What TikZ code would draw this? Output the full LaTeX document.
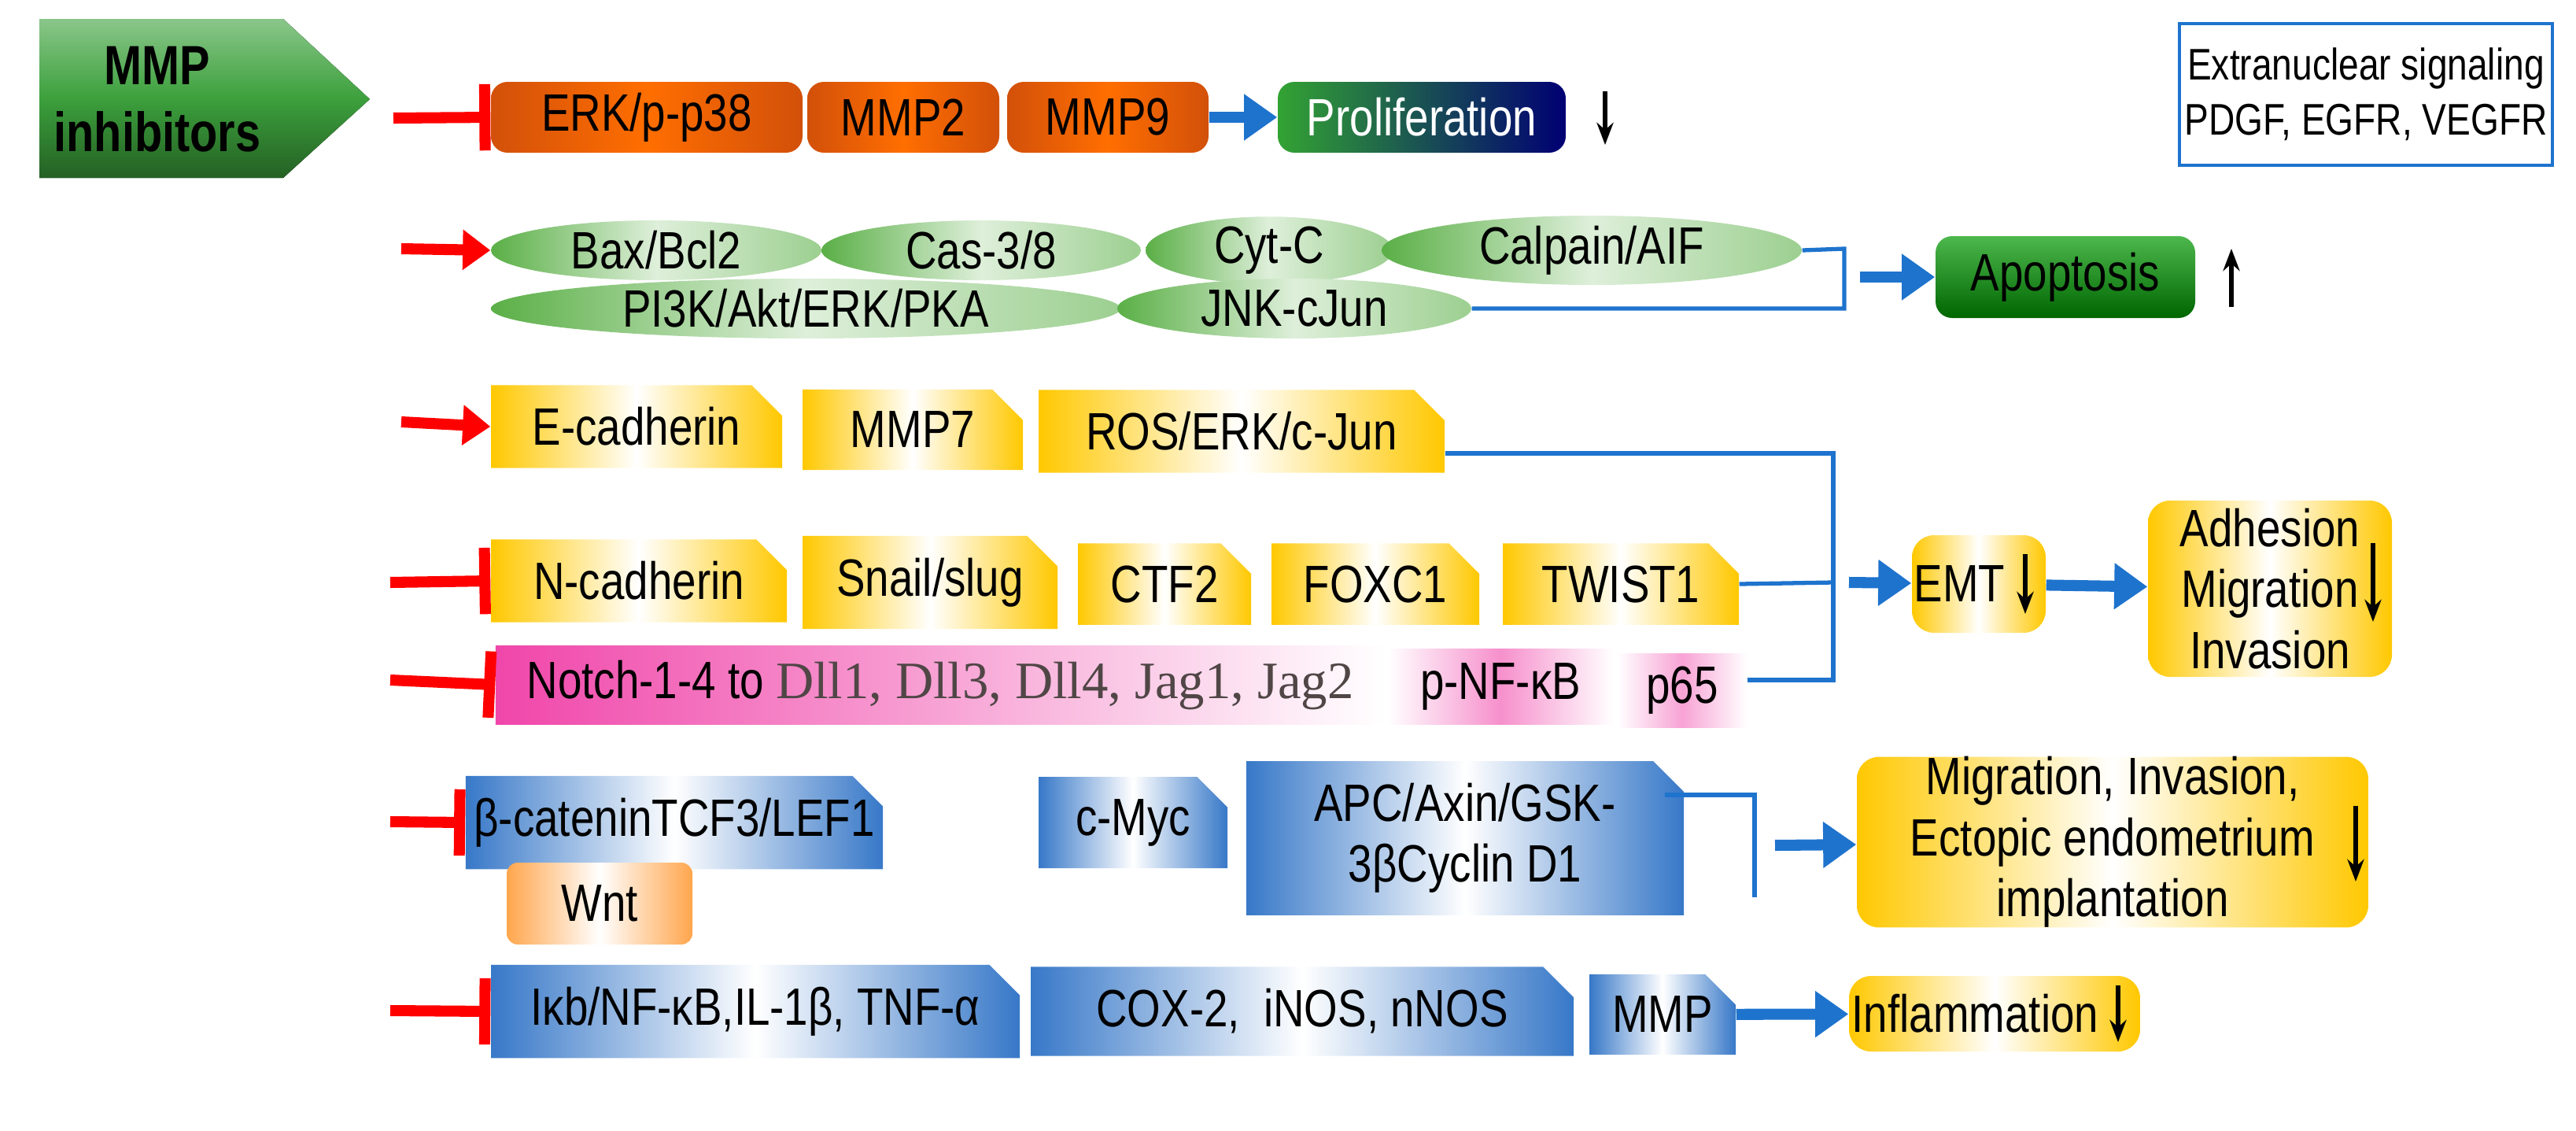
\documentclass[tikz,border=0pt]{standalone}
\usepackage{fontspec}
\setmainfont{Liberation Sans}[FakeStretch=0.82]
\newfontfamily\serifnum{Liberation Serif}
\usetikzlibrary{shapes.misc,shapes.geometric,arrows.meta,positioning}
\definecolor{mmpgreen}{RGB}{60,160,60}
\definecolor{dkorange}{RGB}{210,80,10}
\definecolor{ltorange}{RGB}{255,110,0}
\definecolor{ellgreen}{RGB}{90,175,70}
\definecolor{boxyellow}{RGB}{255,200,0}
\definecolor{boxpink}{RGB}{240,70,170}
\definecolor{boxblue}{RGB}{55,120,200}
\definecolor{arrblue}{RGB}{30,115,205}
\definecolor{serifgray}{RGB}{80,70,70}
% box from its corners (x1,y1) (x2,y2): style, name, corners, text
\newcommand\boxat[7]{%
  \pgfmathsetmacro\bw{(#5-#3)*0.02}\pgfmathsetmacro\bh{(#6-#4)*0.02}%
  \node[#1, minimum width=\bw cm, minimum height=\bh cm] (#2) at ({(#3+#5)/2},{(#4+#6)/2}) {#7};}
\tikzset{
  every node/.style={font=\fontsize{19}{22}\selectfont, inner sep=0pt},
  obox/.style={rounded corners=6pt, left color=dkorange, right color=dkorange, middle color=ltorange},
  ell/.style={ellipse, left color=ellgreen, right color=ellgreen!60, middle color=white!80!ellgreen},
  ybox/.style={chamfered rectangle, chamfered rectangle corners=north east, chamfered rectangle xsep=3pt,
    chamfered rectangle ysep=8pt, left color=boxyellow, right color=boxyellow, middle color=white},
  pbox/.style={left color=boxpink, right color=white, middle color=boxpink!50},
  bbox/.style={chamfered rectangle, chamfered rectangle corners=north east, chamfered rectangle xsep=3pt,
    chamfered rectangle ysep=8pt, left color=boxblue, right color=boxblue, middle color=white},
  res/.style={rounded corners=8pt, left color=boxyellow, right color=boxyellow, middle color=white, align=center},
  inhib/.style={red, line width=4pt, -{Bar[width=24pt, line width=4pt]}},
  act/.style={red, line width=4pt, -{Triangle[width=14pt, length=10pt]}},
  flow/.style={arrblue, line width=4pt, -{Triangle[width=16pt, length=12pt]}},
  link/.style={arrblue, line width=1.5pt},
  down/.style={black, line width=1.5pt, -{Stealth[length=8pt]}}
}
\begin{document}
\begin{tikzpicture}[x=0.02cm, y=-0.02cm]
  \useasboundingbox (0,0) rectangle (1637,718);
  % MMP inhibitors
  \fill[top color=mmpgreen!60, bottom color=mmpgreen!60!black, middle color=mmpgreen]
    (25,12) -- (180,12) -- (235,63) -- (180,113) -- (25,113) -- cycle;
  \node[font=\fontsize{20}{24}\selectfont\bfseries, align=center] (mmp) at (100,63) {MMP\\inhibitors};

  % Row 1: proliferation
  \coordinate (r1) at (250,75);
  \boxat{obox}{erk}{312}{52}{510}{97}{ERK/p-p38}
  \boxat{obox}{mmp2}{513}{52}{635}{97}{MMP2}
  \boxat{obox}{mmp9}{640}{52}{768}{97}{MMP9}
  \boxat{rounded corners=6pt, left color=green!55!black!80, right color=blue!45!black, text=white}{prol}{812}{52}{995}{97}{Proliferation}
  \draw[inhib] (r1) -- (erk.west);
  \draw[flow] (mmp9) -- (prol);
  \draw[down] (1020,58) -- (1020,92);
  \boxat{draw=arrblue, line width=1pt, align=center, font=\fontsize{16}{20}\selectfont}{extra}{1385}{15}{1622}{105}{Extranuclear signaling\\PDGF, EGFR, VEGFR}

  % Row 2: apoptosis
  \coordinate (r2) at (255,158);
  \boxat{ell}{bax}{312}{140}{522}{178}{Bax/Bcl2}
  \boxat{ell}{cas}{522}{140}{725}{178}{Cas-3/8}
  \boxat{ell}{cyt}{728}{140}{885}{178}{Cyt-C}
  \boxat{ell}{calp}{878}{140}{1145}{178}{Calpain/AIF}
  \boxat{ell}{pi3k}{312}{177}{712}{215}{PI3K/Akt/ERK/PKA}
  \boxat{ell}{jnk}{710}{177}{935}{215}{JNK-cJun}
  \draw[act] (r2) -- (bax.west);
  \draw[link] (calp.east) -- (1172,158) -- (1172,196) -- (jnk.east);
  \boxat{rounded corners=6pt, top color=green!60!black!70, bottom color=green!40!black}{apop}{1230}{150}{1395}{202}{Apoptosis}
  \draw[flow] (1182,176) -- (apop);
  \draw[down, {Stealth[length=8pt]}-] (1418,158) -- (1418,195);

  % Row 3: E-cadherin
  \coordinate (r3) at (255,268);
  \boxat{ybox}{ecad}{312}{250}{497}{292}{E-cadherin}
  \boxat{ybox}{mmp7}{510}{250}{650}{296}{MMP7}
  \boxat{ybox}{ros}{660}{250}{918}{298}{ROS/ERK/c-Jun}
  \draw[act] (r3) -- (ecad.west);

  % Row 4: mesenchymal markers
  \coordinate (r4) at (248,370);
  \boxat{ybox}{ncad}{312}{345}{500}{393}{N-cadherin}
  \boxat{ybox}{snail}{510}{345}{672}{395}{Snail/slug}
  \boxat{ybox}{ctf}{685}{347}{795}{395}{CTF2}
  \boxat{ybox}{foxc}{808}{347}{940}{395}{FOXC1}
  \boxat{ybox}{twist}{955}{347}{1105}{395}{TWIST1}
  \draw[inhib] (r4) -- (ncad.west);

  % Row 5: Notch
  \coordinate (r5) at (248,432);
  \boxat{pbox}{notch}{315}{410}{880}{460}{Notch-1-4 to {\serifnum\color{serifgray}Dll1, Dll3, Dll4, Jag1, Jag2}}
  \boxat{pbox, left color=white, middle color=boxpink!60}{pnf}{882}{412}{1025}{460}{p-NF-κB}
  \boxat{pbox, left color=white, middle color=boxpink!50}{p65}{1028}{415}{1110}{462}{p65}
  \draw[inhib] (r5) -- (notch.west);

  % EMT
  \draw[link] (ros.east |- 0,288) -- (1165,288) -- (1165,432) -- (p65.east |- 0,432);
  \draw[link] (twist.east) -- (1165,370);
  \boxat{res}{emt}{1215}{340}{1300}{402}{EMT\hspace{14pt}}
  \draw[down] (1287,352) -- (1287,390);
  \boxat{res}{adh}{1365}{318}{1520}{430}{Adhesion\hspace{10pt}\\Migration\hspace{10pt}\\Invasion\hspace{10pt}}
  \draw[down] (1508,345) -- (1508,395);
  \draw[flow] (1175,370) -- (emt);
  \draw[flow] (emt) -- (adh);

  % Row 6: Wnt
  \coordinate (r6) at (248,522);
  \boxat{bbox}{bcat}{312}{500}{545}{545}{β-cateninTCF3/LEF1}
  \boxat{bbox}{myc}{660}{500}{780}{545}{c-Myc}
  \boxat{bbox, align=center}{apc}{792}{490}{1070}{575}{APC/Axin/GSK-\\3βCyclin D1}
  \boxat{rounded corners=4pt, left color=orange!70, right color=orange!70, middle color=white}{wnt}{322}{548}{440}{600}{Wnt}
  \draw[inhib] (r6) -- (bcat.west);
  \coordinate (wend) at (1115,570);
  \draw[link] (1058,505) -- (1115,505) -- (wend);
  \boxat{res}{migr}{1180}{490}{1505}{580}{Migration, Invasion,\\Ectopic endometrium\hspace{10pt}\\implantation}
  \draw[down] (1497,512) -- (1497,560);
  \draw[flow] (1128,537) -- (migr);

  % Row 7: inflammation
  \coordinate (r7) at (248,642);
  \boxat{bbox}{ikb}{312}{620}{648}{665}{Iκb/NF-κB,IL-1β, TNF-α}
  \boxat{bbox}{cox}{655}{620}{1000}{665}{COX-2,\ \ iNOS, nNOS}
  \boxat{bbox}{mmpx}{1010}{622}{1103}{667}{MMP}
  \boxat{res}{infl}{1175}{620}{1360}{668}{Inflammation\hspace{14pt}}
  \draw[down] (1346,626) -- (1346,662);
  \draw[inhib] (r7) -- (ikb.west);
  \draw[flow] (mmpx) -- (infl);
\end{tikzpicture}
\end{document}
